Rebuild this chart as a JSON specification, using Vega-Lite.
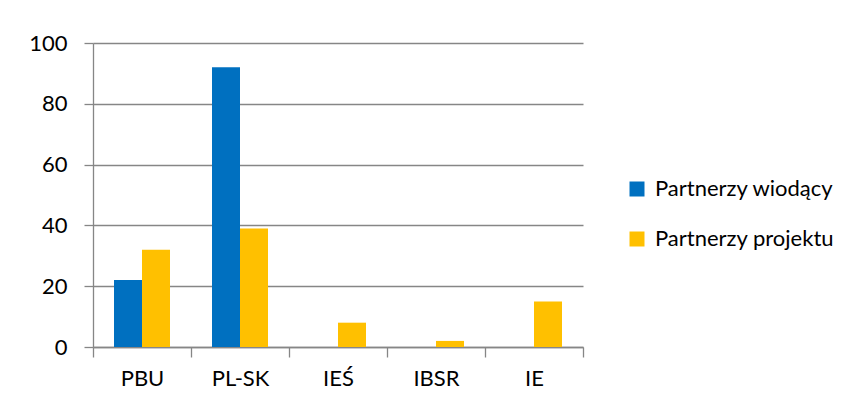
{
  "$schema": "https://vega.github.io/schema/vega-lite/v6.json",
  "autosize": {"type": "none"},
  "width": 490,
  "height": 304,
  "padding": {"left": 93, "top": 43, "right": 281, "bottom": 62},
  "background": "white",
  "data": {"values": [
    {"cat": "PBU", "series": "Partnerzy wiodący", "value": 22},
    {"cat": "PBU", "series": "Partnerzy projektu", "value": 32},
    {"cat": "PL-SK", "series": "Partnerzy wiodący", "value": 92},
    {"cat": "PL-SK", "series": "Partnerzy projektu", "value": 39},
    {"cat": "IEŚ", "series": "Partnerzy wiodący", "value": 0},
    {"cat": "IEŚ", "series": "Partnerzy projektu", "value": 8},
    {"cat": "IBSR", "series": "Partnerzy wiodący", "value": 0},
    {"cat": "IBSR", "series": "Partnerzy projektu", "value": 2},
    {"cat": "IE", "series": "Partnerzy wiodący", "value": 0},
    {"cat": "IE", "series": "Partnerzy projektu", "value": 15}
  ]},
  "mark": {"type": "bar"},
  "encoding": {
    "x": {
      "field": "cat", "type": "nominal", "sort": null, "title": null,
      "scale": {"paddingInner": 0, "paddingOuter": 0},
      "axis": {
        "labelAngle": 0, "labelFontSize": 22, "labelFont": "Lato", "labelColor": "#000000",
        "tickBand": "extent", "tickSize": 10, "tickColor": "#868686", "tickWidth": 1.3,
        "domainColor": "#868686", "domainWidth": 1.3, "labelPadding": 11, "grid": false
      }
    },
    "xOffset": {
      "field": "series", "sort": ["Partnerzy wiodący", "Partnerzy projektu"],
      "scale": {"paddingInner": 0, "paddingOuter": 0.75}
    },
    "y": {
      "field": "value", "type": "quantitative", "title": null,
      "scale": {"domain": [0, 100], "nice": false},
      "axis": {
        "values": [0, 20, 40, 60, 80, 100],
        "labelFontSize": 22, "labelFont": "Lato", "labelColor": "#000000",
        "tickSize": 9, "tickColor": "#868686", "tickWidth": 1.3,
        "domainColor": "#868686", "domainWidth": 1.3,
        "gridColor": "#868686", "gridWidth": 1.3, "labelPadding": 17
      }
    },
    "color": {
      "field": "series", "type": "nominal", "title": null,
      "sort": ["Partnerzy wiodący", "Partnerzy projektu"],
      "scale": {"domain": ["Partnerzy wiodący", "Partnerzy projektu"], "range": ["#0070C0", "#FFC000"]},
      "legend": {
        "orient": "none", "legendX": 533, "legendY": 135,
        "symbolType": "square", "symbolSize": 225, "symbolStrokeWidth": 0,
        "labelFontSize": 22, "labelFont": "Lato", "labelColor": "#000000", "labelLimit": 300,
        "rowPadding": 28, "labelOffset": 7
      }
    }
  },
  "config": {"view": {"stroke": null}}
}
